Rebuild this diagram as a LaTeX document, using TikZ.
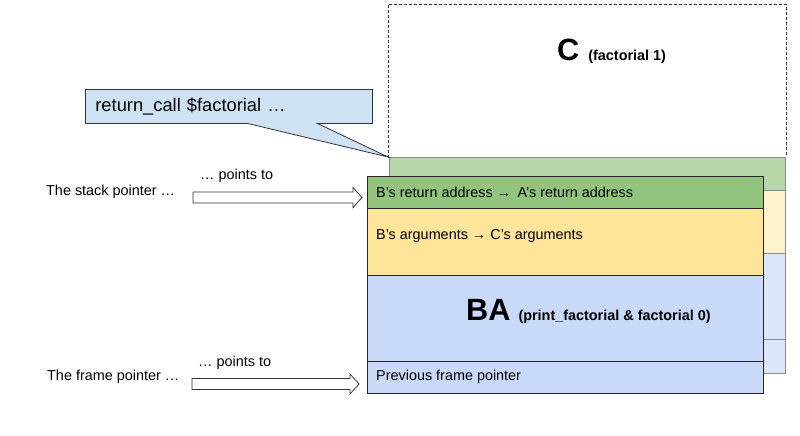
\documentclass[tikz,border=0pt]{standalone}
\usepackage{fontspec}
\setmainfont{Liberation Sans}
\usetikzlibrary{calc,shapes.callouts}

\definecolor{frontgreen}{HTML}{93C47D}
\definecolor{frontyellow}{HTML}{FFE599}
\definecolor{frontblue}{HTML}{C9DAF8}
\definecolor{backgreen}{HTML}{B6D7A8}
\definecolor{backyellow}{HTML}{FFF2CC}
\definecolor{backblue}{HTML}{DAE6F9}
\definecolor{calloutblue}{HTML}{CFE2F3}

\newcommand\fatarrow[2]{%
\draw [fatline] ($(#1)+(0,-5.5)$) -- ($(#2)+(-9,-5.5)$) -- ($(#2)+(-9,-10)$) -- (#2)
  -- ($(#2)+(-9,10)$) -- ($(#2)+(-9,5.5)$) -- ($(#1)+(0,5.5)$) -- cycle;}

\tikzset{
  band/.style={draw=black!85, line width=0.8pt, anchor=north west, inner sep=0pt,
    outer sep=0pt, minimum width=396pt},
  backband/.style={draw=black!45, line width=0.8pt, anchor=north west, inner sep=0pt,
    outer sep=0pt, minimum width=396pt},
  lbl/.style={inner sep=0pt, font=\fontsize{14.4}{17}\selectfont},
  biglbl/.style={inner sep=0pt, font=\bfseries\fontsize{14.4}{17}\selectfont},
  fatline/.style={draw=black!80, line width=0.8pt, fill=white},
  callbox/.style={rectangle callout, draw=black!80, line width=0.8pt, fill=calloutblue,
    inner xsep=10pt, inner ysep=0pt, text width=267pt, align=left,
    minimum height=34pt, callout pointer width=70pt,
    font=\fontsize{18.3}{21}\selectfont}
}

\begin{document}
\begin{tikzpicture}[x=1pt,y=-1pt]
\useasboundingbox (0,0) rectangle (800,436);

% frame C (dashed) and the frame behind
\node [draw=black!80, dashed, dash pattern=on 3pt off 2pt, line width=0.7pt, anchor=north west,
  inner sep=0pt, outer sep=0pt, minimum width=398pt, minimum height=153pt] (cframe) at (388,4) {};
\node [biglbl, anchor=base west] (clbl) at ($(cframe.north west)+(169,56)$)
  {{\fontsize{30.7}{34}\selectfont C}\hspace{9pt}(factorial 1)};

\node [backband, fill=backgreen, minimum height=33pt] (bgret) at (389,157) {};
\node [backband, fill=backyellow, minimum height=63pt] (bgargs) at (bgret.south west) {};
\node [backband, fill=backblue, minimum height=86pt] (bgba) at (bgargs.south west) {};
\node [backband, fill=backblue, minimum height=34pt] (bgprev) at (bgba.south west) {};

% callout
\node [callbox, anchor=north west, callout absolute pointer={(cframe.south west)}] (call)
  at (85,89) {return\_call \$factorial …};

% frame BA
\node [band, fill=frontgreen, minimum height=32pt] (ret) at (367,176) {};
\node [band, fill=frontyellow, minimum height=67pt] (args) at (ret.south west) {};
\node [band, fill=frontblue, minimum height=86pt] (ba) at (args.south west) {};
\node [band, fill=frontblue, minimum height=32pt] (prev) at (ba.south west) {};

\node [lbl, anchor=west] (retlbl) at ($(ret.west)+(9,0)$) {B’s return address → \,A’s return address};
\node [lbl, anchor=west] (argslbl) at ($(args.north west)+(9,28)$) {B’s arguments → C’s arguments};
\node [biglbl, anchor=base west] (balbl) at ($(ba.north west)+(99,45)$)
  {{\fontsize{30.7}{34}\selectfont BA}\hspace{8pt}(print\_factorial \& factorial 0)};
\node [lbl, anchor=west] (prevlbl) at ($(prev.west)+(9,0)$) {Previous frame pointer};

% pointers
\node [lbl, anchor=west] (sp) at (46,192) {The stack pointer …};
\node [lbl, anchor=west] (sppts) at (200,176) {… points to};
\node [lbl, anchor=west] (fp) at (47,377) {The frame pointer …};
\node [lbl, anchor=west] (fppts) at (198,363) {… points to};

\coordinate (sptail) at (193,197.5);
\coordinate (sptip) at ($(ret.west)+(-5,5.5)$);
\coordinate (fptail) at (192,384);
\coordinate (fptip) at ($(prev.west)+(-8,7)$);
\fatarrow{sptail}{sptip}
\fatarrow{fptail}{fptip}
\end{tikzpicture}
\end{document}
